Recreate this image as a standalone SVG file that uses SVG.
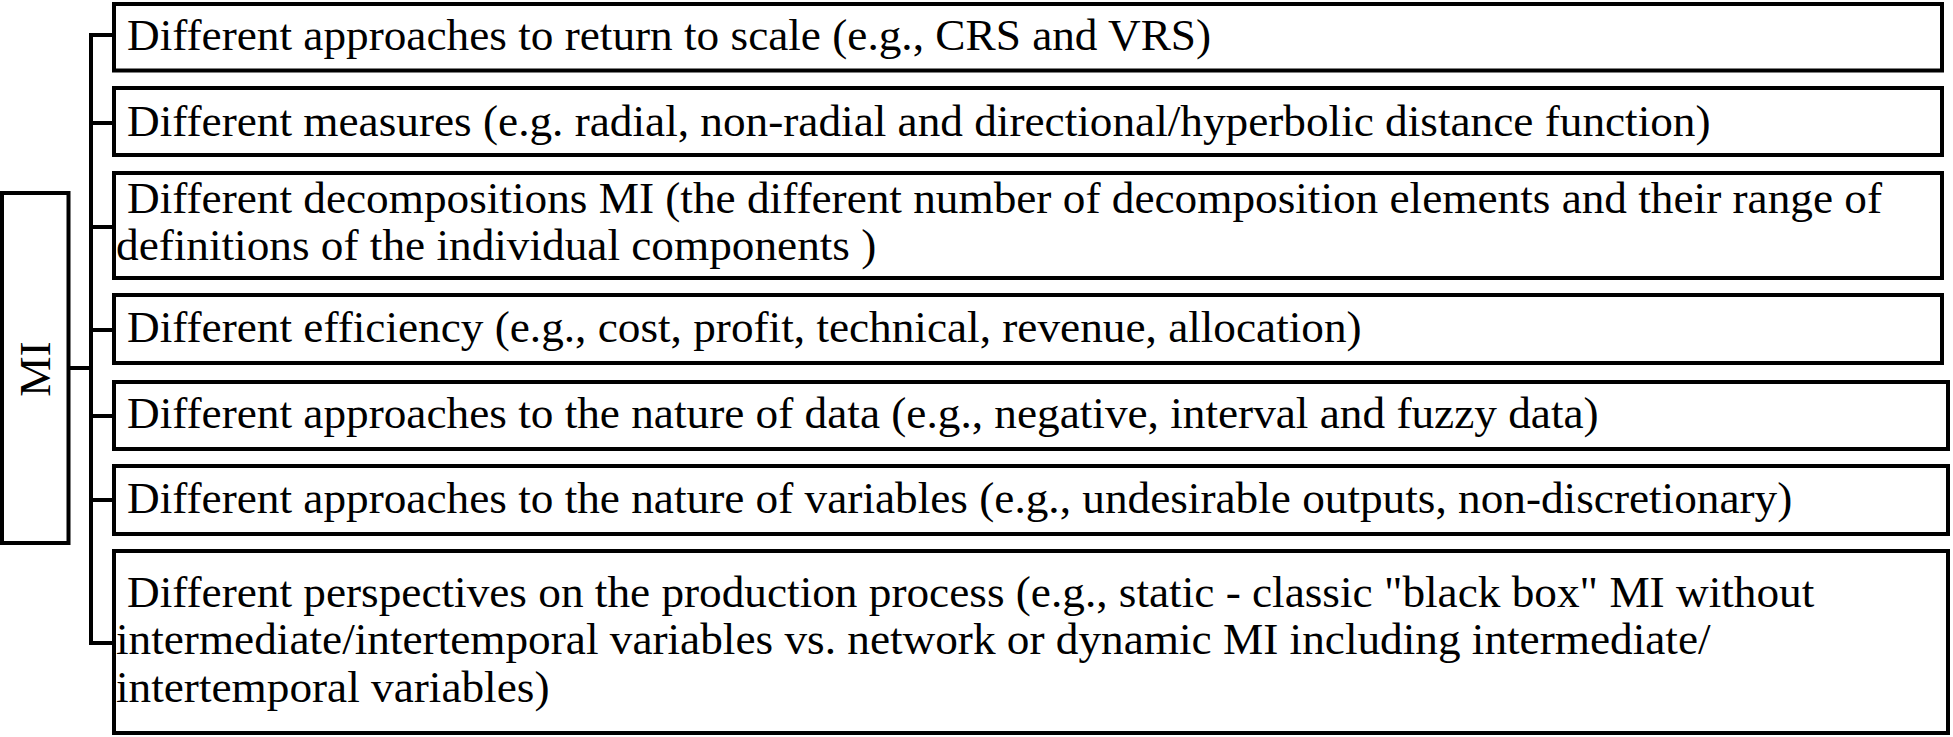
<svg xmlns="http://www.w3.org/2000/svg" width="1953" height="737" viewBox="0 0 1953 737">
<style>
.box{fill:#fff;stroke:#000;stroke-width:4}
.conn{fill:none;stroke:#000;stroke-width:4}
text{font-family:"Liberation Serif","Times New Roman",serif;font-size:45.25px;fill:#000}
</style>
<rect x="0" y="0" width="1953" height="737" fill="#fff"/>
<g id="connectors">
<path class="conn" d="M68.5 368H91M91 35V643M89 35H114M89 123H114M89 227H114M89 330H114M89 416H114M89 500H114M89 643H114"/>
</g>
<g id="mi">
<rect class="box" x="2" y="193" width="66.5" height="350"/>
<text transform="translate(50 369) rotate(-90)" text-anchor="middle">MI</text>
</g>
<g id="n1">
<rect class="box" x="114" y="4" width="1828" height="66.5"/>
<text x="127" y="50">Different approaches to return to scale (e.g., CRS and VRS)</text>
</g>
<g id="n2">
<rect class="box" x="114" y="88" width="1828" height="67"/>
<text x="127" y="136">Different measures (e.g. radial, non-radial and directional/hyperbolic distance function)</text>
</g>
<g id="n3">
<rect class="box" x="114" y="173" width="1828" height="105"/>
<text x="127" y="213">Different decompositions MI (the different number of decomposition elements and their range of</text>
<text x="116" y="260">definitions of the individual components )</text>
</g>
<g id="n4">
<rect class="box" x="114" y="295" width="1828" height="68"/>
<text x="127" y="342">Different efficiency (e.g., cost, profit, technical, revenue, allocation)</text>
</g>
<g id="n5">
<rect class="box" x="114" y="382" width="1834" height="67"/>
<text x="127" y="428">Different approaches to the nature of data (e.g., negative,  interval and fuzzy data)</text>
</g>
<g id="n6">
<rect class="box" x="114" y="466" width="1834" height="68"/>
<text x="127" y="513">Different approaches to the nature of variables (e.g., undesirable outputs, non-discretionary)</text>
</g>
<g id="n7">
<rect class="box" x="114" y="551" width="1834" height="182"/>
<text x="127" y="607">Different perspectives on the production process (e.g., static - classic "black box" MI without</text>
<text x="116" y="654">intermediate/intertemporal variables vs. network or dynamic MI including intermediate/</text>
<text x="116" y="702">intertemporal variables)</text>
</g>
</svg>
